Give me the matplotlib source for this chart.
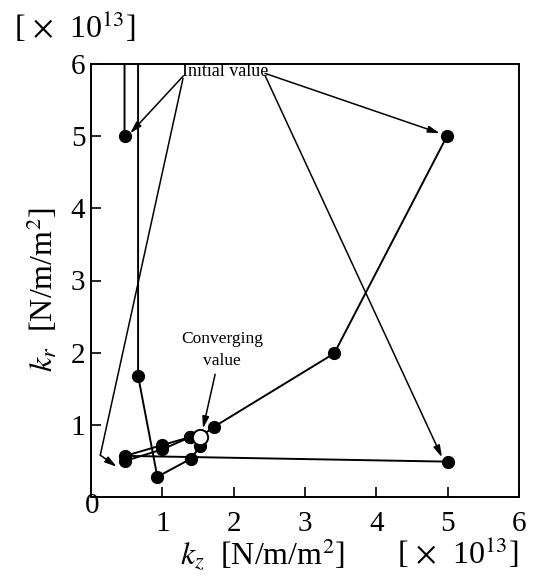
import matplotlib
matplotlib.use("Agg")
import matplotlib.pyplot as plt

plt.rcParams['font.family'] = ['Liberation Serif', 'DejaVu Serif']
plt.rcParams['mathtext.fontset'] = 'stix'

# Trajectories of (k_z, k_r) in units of 1e13 (points above 6 leave the frame)
traj1_x = [0.47, 0.47, 0.66, 0.66, 0.93, 1.40, 1.53, 1.53]
traj1_y = [5.00, 6.80, 6.80, 1.68, 0.28, 0.53, 0.70, 0.83]
traj2_x = [4.99, 3.41, 1.72, 1.53]
traj2_y = [5.00, 1.99, 0.97, 0.83]
traj3_x = [5.00, 0.48, 1.00, 1.39, 1.53]
traj3_y = [0.49, 0.57, 0.72, 0.83, 0.83]
traj4_x = [0.48, 1.00, 1.39, 1.53]
traj4_y = [0.50, 0.66, 0.83, 0.83]
conv_x = [1.53]
conv_y = [0.83]

ticks = [0, 1, 2, 3, 4, 5, 6]
tick_labels = ['', '1', '2', '3', '4', '5', '6']

fig = plt.figure(figsize=(5.44, 5.78), dpi=100)
ax = fig.add_axes([91/544, 1-497/578, (519-91)/544, (497-64)/578])

for xs, ys in [(traj1_x, traj1_y), (traj2_x, traj2_y), (traj3_x, traj3_y), (traj4_x, traj4_y)]:
    ax.plot(xs, ys, '-', color='black', lw=1.4, marker='o', ms=8.5,
            mfc='black', mec='black')
ax.plot(conv_x, conv_y, 'o', ms=11, mfc='white', mec='black', mew=1.4, zorder=5)

ax.set_xlim(0, 6)
ax.set_ylim(0, 6)
ax.set_xticks(ticks)
ax.set_yticks(ticks)
ax.set_xticklabels(tick_labels)
ax.set_yticklabels(tick_labels)
ax.tick_params(direction='in', length=7, width=1.2, labelsize=21)
ax.tick_params(axis='x', pad=10)
ax.tick_params(axis='y', pad=4)
for s in ax.spines.values():
    s.set_linewidth(1.4)

fig.text(92/544, 1-506/578, '0', fontsize=21, ha='center', va='center')

ax.set_xlabel(r'$k_z$  [N/m/m$^2$]', fontsize=23)
ax.xaxis.set_label_coords((262-91)/(519-91), -(555-497)/(497-64))
ax.xaxis.label.set_va('center')
ax.set_ylabel(r'$k_r$  [N/m/m$^2$]', fontsize=23)
ax.yaxis.set_label_coords(-(91-42)/(519-91), 0.48)
ax.yaxis.label.set_va('center')

fig.text(75/544, 1-27/578, r'[ $\times$  10$^{13}$]', fontsize=23, ha='center', va='center')
fig.text(458/544, 1-553/578, r'[ $\times$  10$^{13}$]', fontsize=23, ha='center', va='center')

ap = dict(arrowstyle='-|>,head_length=0.7,head_width=0.2', color='black', lw=1.1,
          shrinkA=0, shrinkB=0)
lp = dict(arrowstyle='-', color='black', lw=1.1, shrinkA=0, shrinkB=0)

ax.text(1.88, 5.89, 'Initial value', fontsize=13, ha='center', va='center')
ax.annotate('', xy=(0.55, 5.04), xytext=(1.29, 5.83), arrowprops=ap)
ax.annotate('', xy=(0.13, 0.58), xytext=(1.29, 5.80), arrowprops=lp)
ax.annotate('', xy=(0.36, 0.42), xytext=(0.13, 0.58), arrowprops=ap)
ax.annotate('', xy=(4.89, 5.04), xytext=(2.44, 5.87), arrowprops=ap)
ax.annotate('', xy=(4.92, 0.55), xytext=(2.44, 5.84), arrowprops=ap)

ax.text(1.84, 2.04, 'Converging\nvalue', fontsize=12.5, ha='center', va='center',
        linespacing=1.5)
ax.annotate('', xy=(1.57, 0.95), xytext=(1.74, 1.70), arrowprops=ap)

fig.savefig('out.png', dpi=100)
